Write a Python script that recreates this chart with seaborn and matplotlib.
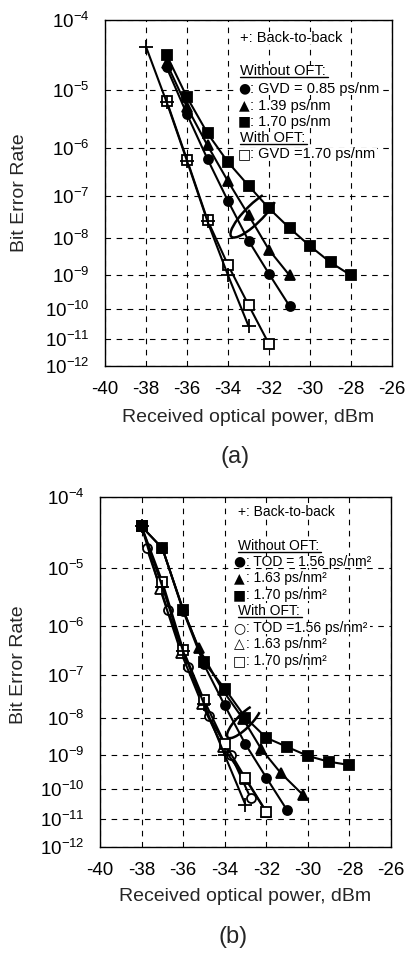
"""
BER curves vs received optical power, (a) GVD and (b) TOD, with and without OFT.
"""

import numpy as np
import matplotlib
matplotlib.use('Agg')
import matplotlib.pyplot as plt
import matplotlib.transforms as mtransforms
from matplotlib.patches import Arc, Rectangle
from matplotlib.lines import Line2D
import seaborn as sns

# ---- panel (a): GVD ----
a_b2b_x   = [-38, -37, -36, -35, -34, -33]
a_b2b_ber = [4.4e-5, 6.5e-6, 5.5e-7, 2.6e-8, 1.0e-9, 2.7e-11]

a_oft_x   = [-37, -36, -35, -34, -33, -32]
a_oft_ber = [6.8e-6, 5.8e-7, 2.8e-8, 1.95e-9, 1.3e-10, 6.4e-12]

a_g085_x   = [-37, -36, -35, -34, -33, -32, -31]
a_g085_ber = [2.25e-5, 4.0e-6, 6.0e-7, 7.8e-8, 8.7e-9, 1.1e-9, 1.2e-10]

a_g139_x   = [-37, -36, -35, -34, -33, -32, -31]
a_g139_ber = [2.6e-5, 5.3e-6, 1.1e-6, 2.1e-7, 3.7e-8, 5.0e-9, 1.0e-9]

a_g170_x   = [-37, -36, -35, -34, -33, -32, -31, -30, -29, -28]
a_g170_ber = [3.4e-5, 7.7e-6, 1.85e-6, 5.2e-7, 1.7e-7, 5.3e-8, 1.8e-8, 6.3e-9, 2.3e-9, 1.0e-9]

# ---- panel (b): TOD ----
b_b2b_x   = [-38, -37, -36, -35, -34, -33]
b_b2b_ber = [4.1e-5, 5.0e-6, 3.2e-7, 2.2e-8, 1.0e-9, 3.0e-11]

b_t156_x   = [-37, -36, -35, -34, -33, -32, -31]
b_t156_ber = [2.0e-5, 1.9e-6, 1.7e-7, 2.0e-8, 2.0e-9, 2.2e-10, 2.0e-11]

b_t163_x   = [-38, -37, -36, -35.25, -34.1, -33.1, -32.25, -31.3, -30.25]
b_t163_ber = [4.1e-5, 2.0e-5, 2.0e-6, 3.7e-7, 4.6e-8, 9.0e-9, 1.5e-9, 3.0e-10, 6.5e-11]

b_t170_x   = [-38, -37, -36, -35, -34, -33, -32, -31, -30, -29, -28]
b_t170_ber = [4.1e-5, 2.0e-5, 2.0e-6, 1.9e-7, 5.0e-8, 1.0e-8, 3.0e-9, 1.7e-9, 9.5e-10, 6.5e-10, 5.2e-10]

b_o156_x   = [-37.75, -36.75, -35.75, -34.75, -33.7, -32.75]
b_o156_ber = [2.0e-5, 2.0e-6, 1.5e-7, 1.07e-8, 1.0e-9, 5.0e-11]

b_o163_x   = [-38, -37.1, -36.1, -35.1, -34.1, -33, -32]
b_o163_ber = [4.1e-5, 4.5e-6, 3.0e-7, 2.2e-8, 1.7e-9, 2.0e-10, 1.7e-11]

b_o170_x   = [-38, -37, -36, -35, -34, -33, -32]
b_o170_ber = [4.1e-5, 6.0e-6, 3.4e-7, 2.7e-8, 2.1e-9, 2.1e-10, 1.8e-11]

x_ticks = [-40, -38, -36, -34, -32, -30, -28, -26]
y_ticks = [1e-4, 1e-5, 1e-6, 1e-7, 1e-8, 1e-9, 1e-10, 1e-11, 1e-12]
y_labels = [r'$\mathregular{10^{-%d}}$' % k for k in range(4, 13)]

# legend rows: (symbol glyph or '', text)
a_legend = [('', '+: Back-to-back'), ('', 'Without OFT:'),
            ('\u25cf', ': GVD = 0.85 ps/nm'), ('\u25b2', ': 1.39 ps/nm'),
            ('\u25a0', ': 1.70 ps/nm'), ('', 'With OFT:'),
            ('\u25a1', ': GVD =1.70 ps/nm')]
b_legend = [('', '+: Back-to-back'), ('', 'Without OFT:'),
            ('\u25cf', ': TOD = 1.56 ps/nm\u00b2'), ('\u25b2', ': 1.63 ps/nm\u00b2'),
            ('\u25a0', ': 1.70 ps/nm\u00b2'), ('', 'With OFT:'),
            ('\u25cb', ': TOD =1.56 ps/nm\u00b2'), ('\u25b3', ': 1.63 ps/nm\u00b2'),
            ('\u25a1', ': 1.70 ps/nm\u00b2')]

sns.set_theme(style='white')
plt.rcParams['font.family'] = ['Liberation Sans', 'DejaVu Sans']
plt.rcParams['mathtext.fontset'] = 'custom'
plt.rcParams['mathtext.rm'] = 'Liberation Sans'
plt.rcParams['axes.unicode_minus'] = False


def fwd(v):
    with np.errstate(all='ignore'):
        return -np.log10(-np.log10(v))


def inv(v):
    return 10.0 ** (-(10.0 ** (-v)))


def draw(ax, x, y, marker, filled=True, ms=6.5):
    sns.lineplot(x=x, y=y, ax=ax, color='black', linewidth=1.5, marker=marker,
                 markersize=ms, markerfacecolor='black' if filled else 'white',
                 markeredgecolor='black', markeredgewidth=1.3,
                 sort=False, estimator=None)


def style(ax, ylab_x, ylab_y, xlab_y):
    ax.set_yscale('function', functions=(fwd, inv))
    ax.set_ylim(1e-12, 1e-4)
    ax.set_xlim(-40, -26)
    ax.set_xticks(x_ticks)
    ax.set_xticklabels([str(t) for t in x_ticks])
    ax.set_yticks(y_ticks)
    ax.set_yticklabels(y_labels)
    ax.yaxis.set_minor_locator(matplotlib.ticker.NullLocator())
    ax.tick_params(length=0, pad=11, labelsize=13.5, colors='black')
    ax.grid(True, color='black', linestyle=(0, (5, 5)), linewidth=0.8)
    ax.set_axisbelow(True)
    for sp in ax.spines.values():
        sp.set_color('black')
        sp.set_linewidth(1.0)
    ax.set_ylabel('Bit Error Rate', fontsize=14)
    ax.set_xlabel('Received optical power, dBm', fontsize=14)
    ax.yaxis.set_label_coords(ylab_x, ylab_y)
    ax.xaxis.set_label_coords(0.5, xlab_y)


def loop(ax, cx, cy, w, h):
    tr = fig.dpi_scale_trans + mtransforms.ScaledTranslation(cx, cy, ax.transAxes)
    ax.add_patch(Arc((0, 0), w, h, angle=45, theta1=20, theta2=345,
                     transform=tr, color='black', lw=1.8, clip_on=False))


def legend_text(ax, rows, x_head, x_sym, x_txt, ys, fs):
    out = []
    for (sym, s), yy in zip(rows, ys):
        parts = []
        t = ax.text(x_txt if sym else x_head, yy, s, transform=ax.transAxes,
                    fontsize=fs, va='center', ha='left', color='black', zorder=6)
        parts.append(t)
        if sym:
            parts.append(ax.text(x_sym, yy, sym, transform=ax.transAxes,
                                 fontsize=10, family='DejaVu Sans', va='center',
                                 ha='center', color='black', zorder=7))
        out.append((ax, s, parts))
    return out


fig = plt.figure(figsize=(4.08, 9.58), dpi=100)
ax_a = fig.add_axes([0.2574, 0.6180, 0.7034, 0.3612])
ax_b = fig.add_axes([0.2451, 0.1162, 0.7132, 0.3650])

# (a)
draw(ax_a, a_oft_x, a_oft_ber, 's', filled=False)
draw(ax_a, a_g085_x, a_g085_ber, 'o')
draw(ax_a, a_g139_x, a_g139_ber, '^', ms=7.5)
draw(ax_a, a_g170_x, a_g170_ber, 's')
draw(ax_a, a_b2b_x, a_b2b_ber, '+', ms=10)
style(ax_a, -0.268, 0.5, -0.125)
loop(ax_a, 0.519, 0.439, 0.64, 0.18)
rows = legend_text(ax_a, a_legend, 0.470, 0.486, 0.504,
                   [0.947, 0.851, 0.801, 0.752, 0.706, 0.660, 0.612], 10.5)

# (b)
draw(ax_b, b_o156_x, b_o156_ber, 'o', filled=False)
draw(ax_b, b_o163_x, b_o163_ber, '^', filled=False, ms=7.5)
draw(ax_b, b_o170_x, b_o170_ber, 's', filled=False)
draw(ax_b, b_t156_x, b_t156_ber, 'o')
draw(ax_b, b_t163_x, b_t163_ber, '^', ms=7.5)
draw(ax_b, b_t170_x, b_t170_ber, 's')
draw(ax_b, b_b2b_x, b_b2b_ber, '+', ms=10)
style(ax_b, -0.251, 0.52, -0.118)
loop(ax_b, 0.495, 0.359, 0.46, 0.14)
rows += legend_text(ax_b, b_legend, 0.475, 0.480, 0.503,
                    [0.956, 0.860, 0.815, 0.767, 0.720, 0.674, 0.626, 0.579, 0.531], 10)

fig.text(0.576, 0.5233, '(a)', fontsize=17, ha='center', va='center')
fig.text(0.571, 0.0222, '(b)', fontsize=17, ha='center', va='center')

# white patch behind each legend row (grid broken there) and header underlines
fig.canvas.draw()
ident = mtransforms.IdentityTransform()
for ax, s, parts in rows:
    bbs = [p.get_window_extent() for p in parts]
    x0 = min(b.x0 for b in bbs) - 2
    x1 = max(b.x1 for b in bbs) + 2
    y0 = min(b.y0 for b in bbs) + 1
    y1 = max(b.y1 for b in bbs) - 1
    ax.add_artist(Rectangle((x0, y0), x1 - x0, y1 - y0, transform=ident,
                            facecolor='white', edgecolor='none', zorder=1.5))
    if s.endswith('OFT:'):
        bb = bbs[0]
        fig.add_artist(Line2D([bb.x0, bb.x1 + 2], [bb.y0 + 1, bb.y0 + 1],
                              transform=ident, color='black', lw=1.0))

fig.savefig('out.png', dpi=100)
plt.close(fig)
